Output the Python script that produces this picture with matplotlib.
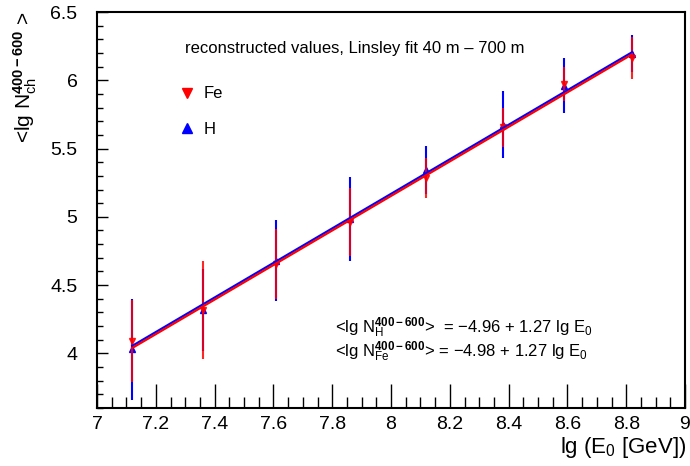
import matplotlib
matplotlib.use("Agg")
import matplotlib.pyplot as plt
import numpy as np
from matplotlib.ticker import MultipleLocator
from matplotlib.lines import Line2D

plt.rcParams["font.family"] = ["Liberation Sans", "DejaVu Sans"]
plt.rcParams["mathtext.fontset"] = "custom"
plt.rcParams["mathtext.rm"] = "Liberation Sans"
plt.rcParams["mathtext.it"] = "Liberation Sans:italic"
plt.rcParams["mathtext.bf"] = "Liberation Sans:bold"

# mean lg(E0) per energy bin
lgE = [7.12, 7.36, 7.61, 7.86, 8.12, 8.38, 8.59, 8.82]

# proton (H)
lgN_H = [4.03, 4.32, 4.68, 4.985, 5.345, 5.675, 5.96, 6.195]
err_H = [0.37, 0.30, 0.295, 0.305, 0.175, 0.245, 0.20, 0.135]

# iron (Fe)
lgN_Fe = [4.09, 4.32, 4.655, 4.96, 5.285, 5.655, 5.97, 6.165]
err_Fe = [0.30, 0.36, 0.255, 0.25, 0.145, 0.145, 0.125, 0.155]

# fitted lines as drawn  <lg N> = a + b lg E0
fit_H = (-4.952, 1.265)
fit_Fe = (-4.967, 1.265)

fig = plt.figure(figsize=(6.9, 4.66), dpi=100)
ax = fig.add_axes([97 / 690, 58 / 466, 588 / 690, 396 / 466])

xs = np.array([min(lgE), max(lgE)])
ax.errorbar(lgE, lgN_H, yerr=err_H, fmt="^", color="blue", ms=4,
            elinewidth=1.5, capsize=0, zorder=2)
ax.errorbar(lgE, lgN_Fe, yerr=err_Fe, fmt="v", color="red", ms=4,
            elinewidth=1.5, capsize=0, alpha=0.85, zorder=3)
ax.plot(xs, fit_H[0] + fit_H[1] * xs, color="blue", lw=1.6, zorder=4)
ax.plot(xs, fit_Fe[0] + fit_Fe[1] * xs, color="red", lw=1.6, zorder=5)

ax.set_xlim(7, 9)
ax.set_ylim(3.6, 6.5)
ax.xaxis.set_major_locator(MultipleLocator(0.2))
ax.xaxis.set_minor_locator(MultipleLocator(0.05))
ax.yaxis.set_major_locator(MultipleLocator(0.5))
ax.yaxis.set_minor_locator(MultipleLocator(0.1))
ax.tick_params(axis="x", which="major", direction="in", length=17, width=1,
               labelsize=14, pad=6)
ax.tick_params(axis="x", which="minor", direction="in", length=8, width=1)
ax.tick_params(axis="y", which="major", direction="in", length=8, width=1,
               labelsize=14, pad=14)
ax.tick_params(axis="y", which="minor", direction="in", length=4, width=1)
ax.xaxis.set_major_formatter(plt.FuncFormatter(lambda v, p: f"{v:g}"))
ax.yaxis.set_major_formatter(plt.FuncFormatter(lambda v, p: f"{v:g}"))
for s in ax.spines.values():
    s.set_linewidth(1.5)

fig.text(686 / 690, 1 - 448 / 466, r"lg (E$_0$ [GeV])", ha="right",
         va="center", fontsize=16)
fig.text(25 / 690, 1 - 12 / 466,
         r"<lg N$_{\mathrm{ch}}^{\mathbf{400-600}}$ >", rotation=90,
         ha="center", va="top", fontsize=15)

ax.text(0.439, 0.909, "reconstructed values, Linsley fit 40 m \u2013 700 m",
        transform=ax.transAxes, ha="center", va="center", fontsize=12)

handles = [Line2D([], [], marker="v", color="red", ls="none", ms=7),
           Line2D([], [], marker="^", color="blue", ls="none", ms=7)]
ax.legend(handles, ["Fe", "H"], loc="upper left",
          bbox_to_anchor=(0.1385, 0.812), frameon=False, fontsize=12,
          handlelength=1.0, handletextpad=0.5, labelspacing=1.25,
          borderaxespad=0, borderpad=0)

ax.text(0.405, 0.202,
        r"<lg N$_{\mathrm{H}}^{\mathbf{400-600}}$>  = $-$4.96 + 1.27 lg E$_0$",
        transform=ax.transAxes, ha="left", va="center", fontsize=12)
ax.text(0.405, 0.141,
        r"<lg N$_{\mathrm{Fe}}^{\mathbf{400-600}}$> = $-$4.98 + 1.27 lg E$_0$",
        transform=ax.transAxes, ha="left", va="center", fontsize=12)

fig.savefig("out.png", dpi=100)
